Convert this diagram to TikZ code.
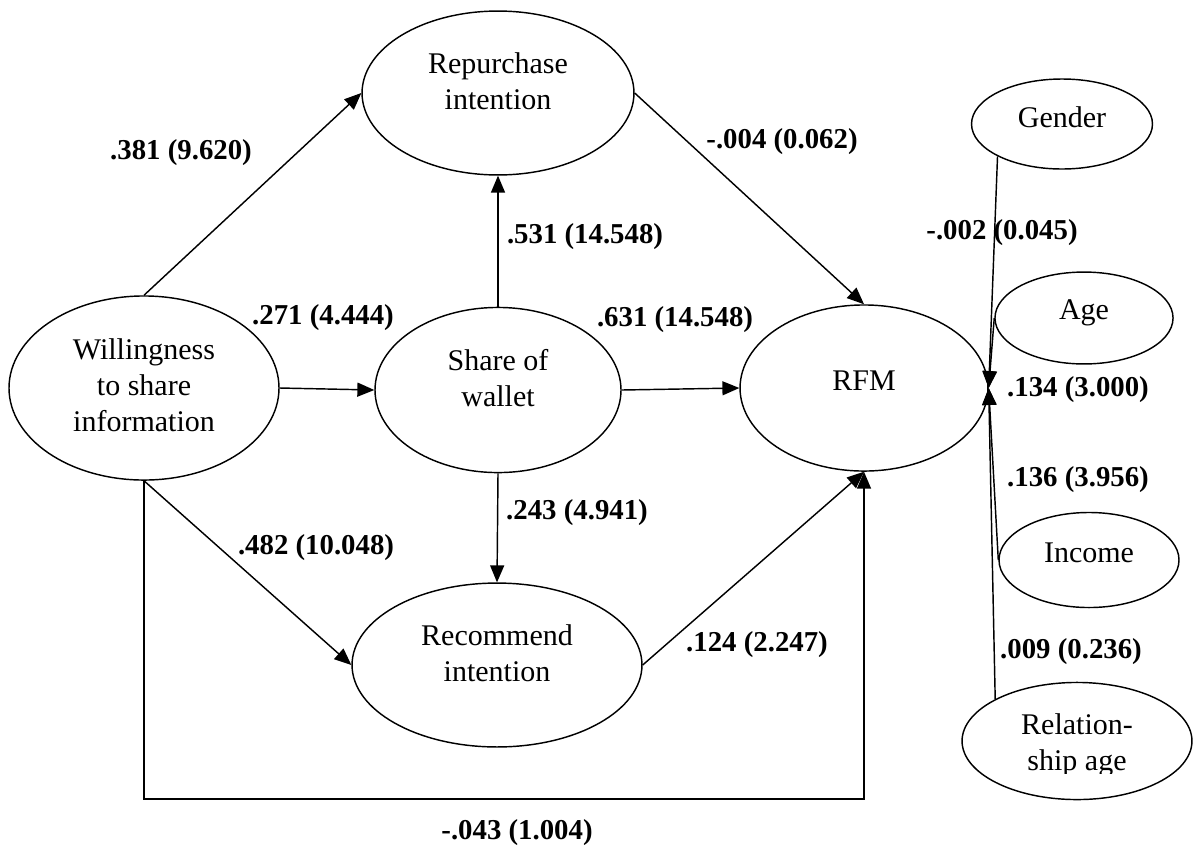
\documentclass[tikz,border=0pt]{standalone}
\usepackage{fontspec}
\setmainfont{Liberation Serif}
\usepackage{tikz}
\usetikzlibrary{shapes.geometric, arrows, positioning, calc}

\begin{document}
\begin{tikzpicture}[x=0.41667pt, y=-0.41667pt, >=triangle 45, line width=0.6pt,
    construct/.style={draw, ellipse, inner sep=0pt},
    txt/.style={align=center, inner sep=0pt, font=\fontsize{12.5}{15}\selectfont},
    coef/.style={inner sep=0pt, font=\fontsize{12}{15}\selectfont\bfseries}]
    \useasboundingbox (0,0) rectangle (1193,848);

    % constructs
    \node[construct, minimum width=112.5pt, minimum height=76.7pt] (will) at (144,388) {};
    \node[construct, minimum width=113.3pt, minimum height=68.3pt] (rep) at (498,93) {};
    \node[construct, minimum width=102.5pt, minimum height=68.8pt] (sow) at (498,390) {};
    \node[construct, minimum width=103.3pt, minimum height=69.2pt] (rfm) at (864,388) {};
    \node[construct, minimum width=120.8pt, minimum height=68.3pt] (rec) at (497,665) {};

    % controls
    \node[construct, minimum width=75.4pt, minimum height=37.5pt] (gen) at (1062,124) {};
    \node[construct, minimum width=74.2pt, minimum height=38.3pt] (age) at (1084,318) {};
    \node[construct, minimum width=75pt, minimum height=39.6pt] (inc) at (1089,560) {};
    \node[construct, minimum width=95.8pt, minimum height=48.8pt] (rel) at (1077,741) {};

    \node[txt] (willT) at ([yshift=1pt]will.center) {Willingness\\to share\\information};
    \node[txt] (repT) at ([yshift=5pt]rep.center) {Repurchase\\intention};
    \node[txt] (sowT) at ([yshift=5pt]sow.center) {Share of\\wallet};
    \node[txt] (rfmT) at ([yshift=3pt]rfm.center) {RFM};
    \node[txt] (recT) at ([yshift=5pt]rec.center) {Recommend\\intention};
    \node[txt] (genT) at ([yshift=3pt]gen.center) {Gender};
    \node[txt] (ageT) at ([yshift=2pt]age.center) {Age};
    \node[txt] (incT) at ([yshift=3pt]inc.center) {Income};
    \begin{scope}
        \clip (960,680) rectangle (1193,773);
        \node[txt] (relT) at ([yshift=-2pt]rel.center) {Relation-\\ship age};
    \end{scope}

    \coordinate (low) at (will.south |- 0,799);

    \path[every edge/.style={draw, ->}]
        (will.north) edge (rep.west)
        (will.east) edge (sow.west)
        (will.south) edge (rec.west)
        (sow.north) edge (rep.south)
        (sow.east) edge (rfm.west)
        (sow.south) edge (rec.north)
        (rep.east) edge (rfm.north)
        (rec.east) edge (rfm.south)
        (gen.south west) edge (rfm.east)
        (age.west) edge (rfm.east)
        (inc.west) edge (rfm.east)
        (rel.north west) edge (rfm.east)
        ;
    \draw[->] (will.south) -- (low) -| (rfm.south);

    % path coefficients
    \node[coef] (c1) at (181,153) {.381 (9.620)};
    \node[coef] (c2) at (323,318) {.271 (4.444)};
    \node[coef] (c3) at (585,237) {.531 (14.548)};
    \node[coef] (c4) at (782,142) {-.004 (0.062)};
    \node[coef] (c5) at (675,320) {.631 (14.548)};
    \node[coef] (c6) at (577,513) {.243 (4.941)};
    \node[coef] (c7) at (316,548) {.482 (10.048)};
    \node[coef] (c8) at (757,645) {.124 (2.247)};
    \node[coef] (c9) at (517,833) {-.043 (1.004)};
    \node[coef] (c10) at (1002,233) {-.002 (0.045)};
    \node[coef] (c11) at (1078,390) {.134 (3.000)};
    \node[coef] (c12) at (1078,480) {.136 (3.956)};
    \node[coef] (c13) at (1071,652) {.009 (0.236)};
\end{tikzpicture}
\end{document}
